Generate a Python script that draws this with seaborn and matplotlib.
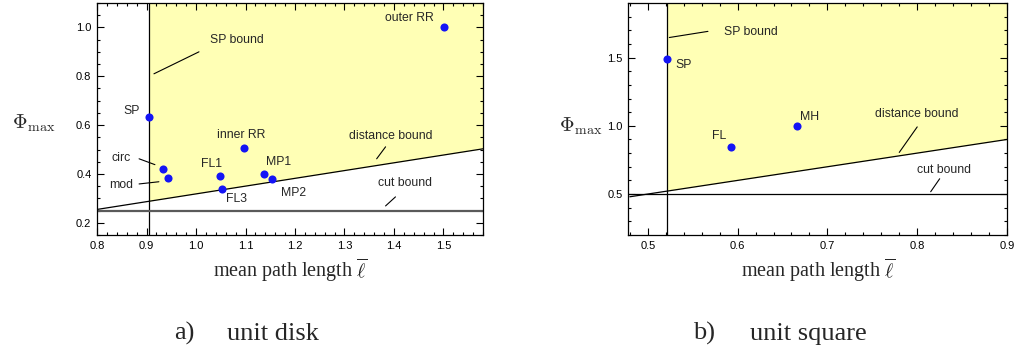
import matplotlib
matplotlib.use("Agg")
import matplotlib.pyplot as plt
import seaborn as sns
import pandas as pd
from matplotlib.ticker import MultipleLocator

# ---------------- data ----------------
disk_names = ["SP", "circ", "mod", "FL1", "FL3", "inner RR", "MP1", "MP2", "outer RR"]
disk_len = [0.905, 0.933, 0.943, 1.048, 1.052, 1.096, 1.137, 1.153, 1.501]
disk_phi = [0.633, 0.422, 0.384, 0.391, 0.340, 0.506, 0.398, 0.379, 1.000]

square_names = ["SP", "FL", "MH"]
square_len = [0.5214, 0.593, 0.666]
square_phi = [1.492, 0.847, 1.000]

# bounds
disk_sp_bound = 0.905
disk_dist_x = [0.80, 1.58]
disk_dist_y = [0.2546, 0.5029]
disk_cut = 0.25

square_sp_bound = 0.5214
square_dist_x = [0.48, 0.90]
square_dist_y = [0.48, 0.90]
square_cut = 0.5

disk_xlim = (0.8, 1.58)
disk_ylim = (0.15, 1.10)
square_xlim = (0.478, 0.90)
square_ylim = (0.2, 1.9)

# ---------------- style ----------------
sns.set_theme(style="ticks")
plt.rcParams["font.family"] = ["Liberation Sans", "DejaVu Sans"]
plt.rcParams["mathtext.fontset"] = "cm"

YELLOW = "#FFFFB5"
BLUE = "#1414F5"
SERIF = ["Liberation Serif", "DejaVu Serif"]
ANN = 8.8

fig = plt.figure(figsize=(10.17, 3.47), dpi=100)
ax1 = fig.add_axes([0.0954, 0.3228, 0.3796, 0.6686])
ax2 = fig.add_axes([0.6175, 0.3228, 0.3727, 0.6686])


def style_axes(ax, xmaj, xmin, ymaj, ymin):
    ax.xaxis.set_major_locator(MultipleLocator(xmaj))
    ax.xaxis.set_minor_locator(MultipleLocator(xmin))
    ax.yaxis.set_major_locator(MultipleLocator(ymaj))
    ax.yaxis.set_minor_locator(MultipleLocator(ymin))
    ax.tick_params(which="both", direction="in", top=True, right=True,
                   color="black", labelsize=8, labelcolor="black", width=0.8)
    ax.tick_params(which="major", length=5, pad=4)
    ax.tick_params(which="minor", length=2.5)
    for s in ax.spines.values():
        s.set_color("black")
        s.set_linewidth(0.9)
    ax.set_xlabel("")
    ax.set_ylabel("")


def draw_panel(ax, names, xs, ys, sp_bound, dx, dy, cut, xlim, ylim, cutcolor, cutlw):
    # yellow feasible region: right of SP bound, above distance bound
    slope = (dy[1] - dy[0]) / (dx[1] - dx[0])
    x0 = sp_bound
    y0 = dy[0] + slope * (x0 - dx[0])
    ax.fill_between([x0, dx[1]], [y0, dy[1]], [ylim[1], ylim[1]],
                    color=YELLOW, lw=0, zorder=0)
    ax.plot(dx, dy, color="black", lw=0.9, zorder=2)
    ax.axvline(sp_bound, color="black", lw=0.9, zorder=2)
    ax.axhline(cut, color=cutcolor, lw=cutlw, zorder=2)
    df = pd.DataFrame({"x": xs, "y": ys, "name": names})
    sns.scatterplot(data=df, x="x", y="y", ax=ax, color=BLUE, s=34,
                    edgecolor=BLUE, linewidth=0, zorder=5, legend=False)
    ax.set_xlim(*xlim)
    ax.set_ylim(*ylim)


draw_panel(ax1, disk_names, disk_len, disk_phi, disk_sp_bound, disk_dist_x,
           disk_dist_y, disk_cut, disk_xlim, disk_ylim, "#5a5a5a", 1.6)
draw_panel(ax2, square_names, square_len, square_phi, square_sp_bound, square_dist_x,
           square_dist_y, square_cut, square_xlim, square_ylim, "black", 0.9)

style_axes(ax1, 0.1, 0.02, 0.2, 0.05)
style_axes(ax2, 0.1, 0.02, 0.5, 0.1)

# ---------------- annotations ----------------
disk_label_pos = {
    "SP": (0.869, 0.659), "circ": (0.849, 0.466), "mod": (0.849, 0.355),
    "FL1": (1.032, 0.441), "FL3": (1.082, 0.298), "inner RR": (1.092, 0.560),
    "MP1": (1.167, 0.450), "MP2": (1.197, 0.323), "outer RR": (1.432, 1.040),
}
for n in disk_names:
    ax1.text(*disk_label_pos[n], n, fontsize=ANN, ha="center", va="center")

ax1.text(1.082, 0.950, "SP bound", fontsize=ANN, ha="center", va="center")
ax1.plot([0.915, 1.006], [0.810, 0.900], color="black", lw=0.8)
ax1.text(1.393, 0.556, "distance bound", fontsize=ANN, ha="center", va="center")
ax1.plot([1.365, 1.383], [0.462, 0.511], color="black", lw=0.8)
ax1.text(1.422, 0.363, "cut bound", fontsize=ANN, ha="center", va="center")
ax1.plot([1.383, 1.403], [0.269, 0.306], color="black", lw=0.8)
ax1.plot([0.885, 0.917], [0.462, 0.438], color="black", lw=0.8)
ax1.plot([0.885, 0.925], [0.359, 0.368], color="black", lw=0.8)

square_label_pos = {"SP": (0.540, 1.445), "FL": (0.579, 0.925), "MH": (0.680, 1.067)}
for n in square_names:
    ax2.text(*square_label_pos[n], n, fontsize=ANN, ha="center", va="center")
ax2.text(0.615, 1.687, "SP bound", fontsize=ANN, ha="center", va="center")
ax2.plot([0.524, 0.567], [1.647, 1.692], color="black", lw=0.8)
ax2.text(0.800, 1.087, "distance bound", fontsize=ANN, ha="center", va="center")
ax2.plot([0.780, 0.800], [0.805, 0.992], color="black", lw=0.8)
ax2.text(0.830, 0.675, "cut bound", fontsize=ANN, ha="center", va="center")
ax2.plot([0.815, 0.825], [0.517, 0.612], color="black", lw=0.8)

# ---------------- axis labels ----------------
for ax, ylx, yly in [(ax1, -0.165, 0.48), (ax2, -0.125, 0.47)]:
    ax.text(ylx, yly, r"$\Phi_{\mathrm{max}}$", transform=ax.transAxes,
            fontsize=14.5, ha="center", va="center")
    ax.text(0.5, -0.18, r"mean path length $\overline{\ell}$", transform=ax.transAxes,
            fontsize=14.5, ha="center", va="baseline", family=SERIF)

# subtitles
fig.text(184 / 1017, 1 - 340 / 347, "a)", fontsize=19, family=SERIF, ha="center", va="baseline")
fig.text(273 / 1017, 1 - 340 / 347, "unit disk", fontsize=19, family=SERIF, ha="center", va="baseline")
fig.text(704 / 1017, 1 - 340 / 347, "b)", fontsize=19, family=SERIF, ha="center", va="baseline")
fig.text(808 / 1017, 1 - 340 / 347, "unit square", fontsize=19, family=SERIF, ha="center", va="baseline")

fig.savefig("out.png", dpi=100)
